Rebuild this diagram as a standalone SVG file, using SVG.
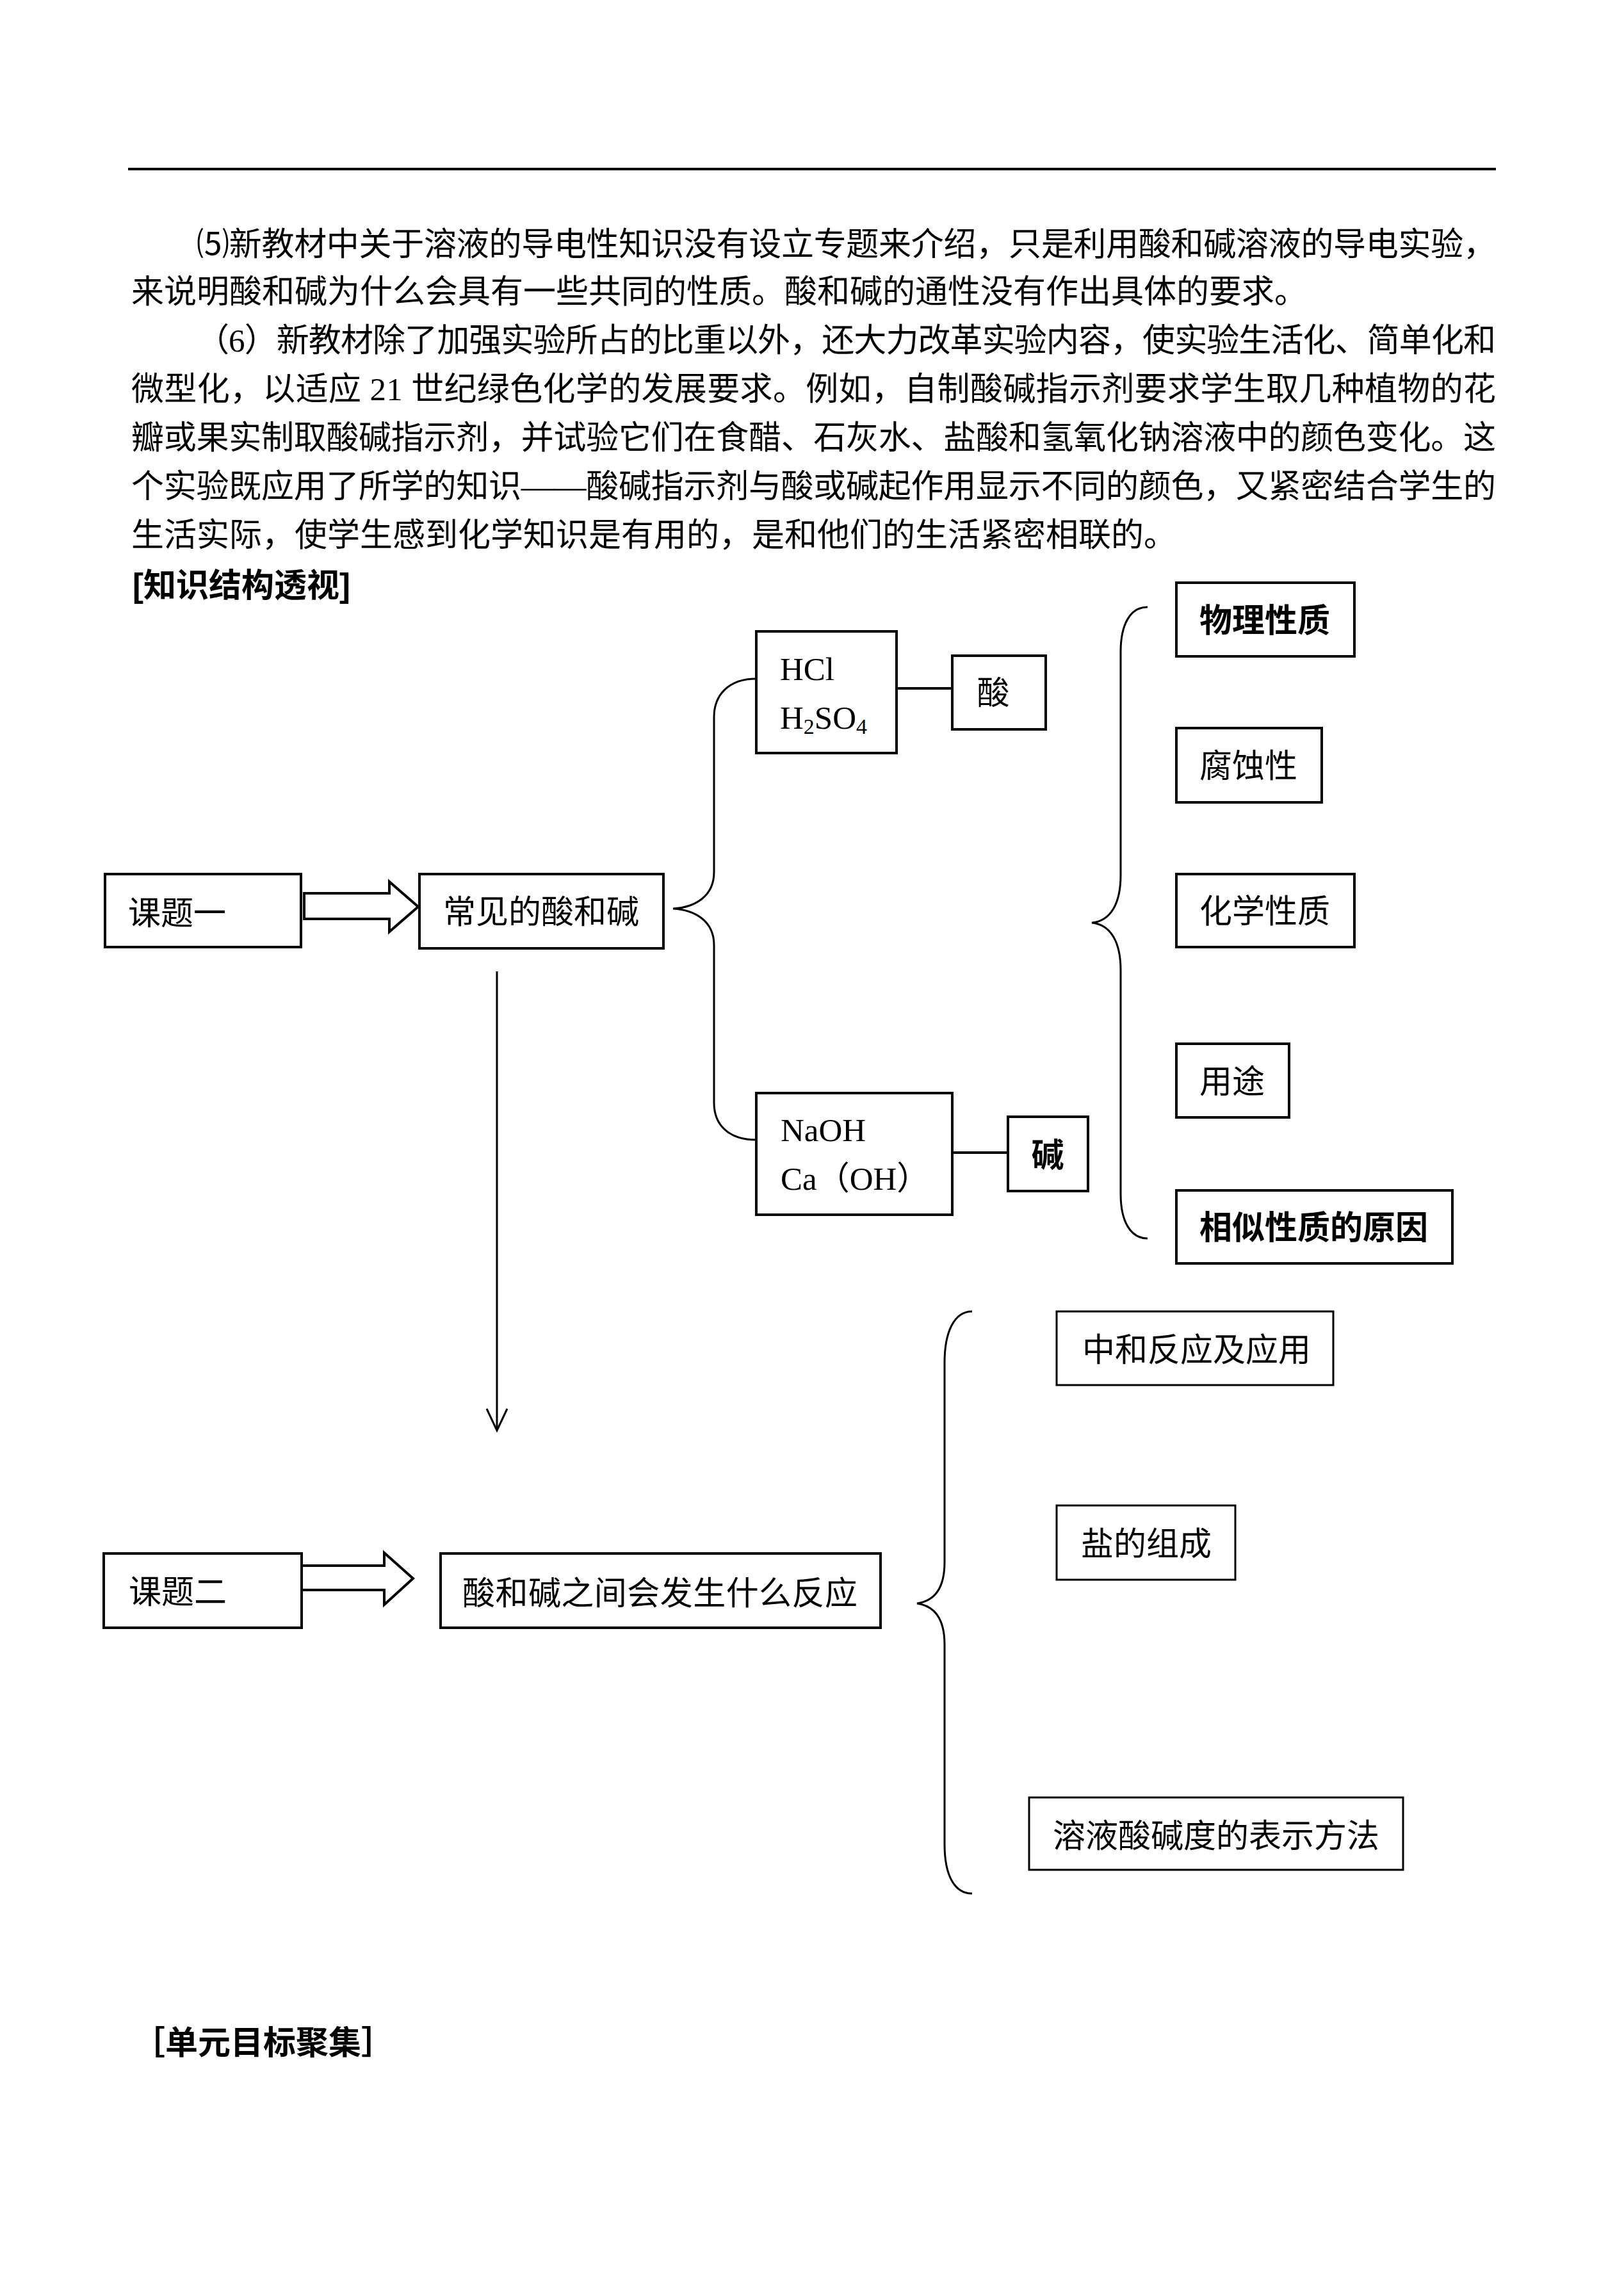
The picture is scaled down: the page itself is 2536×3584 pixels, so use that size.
<svg xmlns="http://www.w3.org/2000/svg" width="2536" height="3584" viewBox="0 0 2536 3584">
<style>
.para{font-family:"Liberation Serif","Noto Sans CJK SC",serif;font-size:51px;fill:#000}
.head{font-family:"Liberation Sans","Noto Sans CJK SC",sans-serif;font-size:51px;fill:#000}
.box{fill:none;stroke:#000;stroke-width:4}
.box2{fill:none;stroke:#000;stroke-width:3}
.lbl{font-family:"Liberation Serif","Noto Sans CJK SC",serif;font-size:51px;fill:#000}
.lbls{font-family:"Noto Sans CJK SC",sans-serif;font-size:51px;fill:#000}
.bold{font-family:"Noto Sans CJK SC",sans-serif;font-weight:bold;font-size:51px;fill:#000}
.chem{font-family:"Liberation Serif",serif;font-size:51px;fill:#000}
.con{fill:none;stroke:#000;stroke-width:3}
.conk{fill:none;stroke:#000;stroke-width:4}
.blk{fill:#fff;stroke:#000;stroke-width:4;stroke-linejoin:miter}
</style>
<rect width="2536" height="3584" fill="#fff"/>
<line x1="200" y1="264" x2="2336" y2="264" stroke="#000" stroke-width="4"/>
<g id="paragraph">
<text class="para" x="307" y="399" textLength="2029" lengthAdjust="spacing">⑸新教材中关于溶液的导电性知识没有设立专题来介绍，只是利用酸和碱溶液的导电实验，</text>
<text class="para" x="205" y="473">来说明酸和碱为什么会具有一些共同的性质。酸和碱的通性没有作出具体的要求。</text>
<text class="para" x="307" y="549" textLength="2029" lengthAdjust="spacing">（6）新教材除了加强实验所占的比重以外，还大力改革实验内容，使实验生活化、简单化和</text>
<text class="para" x="205" y="625" textLength="2131" lengthAdjust="spacing">微型化，以适应 21 世纪绿色化学的发展要求。例如，自制酸碱指示剂要求学生取几种植物的花</text>
<text class="para" x="205" y="701" textLength="2131" lengthAdjust="spacing">瓣或果实制取酸碱指示剂，并试验它们在食醋、石灰水、盐酸和氢氧化钠溶液中的颜色变化。这</text>
<text class="para" x="205" y="777" textLength="2131" lengthAdjust="spacing">个实验既应用了所学的知识——酸碱指示剂与酸或碱起作用显示不同的颜色，又紧密结合学生的</text>
<text class="para" x="205" y="853">生活实际，使学生感到化学知识是有用的，是和他们的生活紧密相联的。</text>
<text class="head" x="207" y="932" font-weight="bold">[知识结构透视]</text>
<text class="head" x="207" y="3208" font-weight="bold">［单元目标聚集］</text>
</g>
<g id="connectors">
<path class="con" d="M1181,1060 C1138,1060 1115,1085 1115,1120 L1115,1362 C1115,1400 1085,1417 1051,1419 C1085,1421 1115,1438 1115,1476 L1115,1722 C1115,1757 1138,1780 1181,1780"/>
<path class="con" d="M1792,948 C1765,948 1750,975 1750,1018 L1750,1367 C1750,1410 1735,1438 1705,1441 C1735,1444 1750,1472 1750,1515 L1750,1864 C1750,1907 1765,1934 1792,1934"/>
<path class="con" d="M1518,2048 C1490,2048 1475,2080 1475,2128 L1475,2440 C1475,2480 1460,2500 1432,2504 C1460,2508 1475,2528 1475,2568 L1475,2880 C1475,2928 1490,2957 1518,2957"/>
<line class="conk" x1="1400" y1="1075" x2="1487" y2="1075"/>
<line class="conk" x1="1487" y1="1800" x2="1574" y2="1800"/>
<line class="con" x1="776" y1="1517" x2="776" y2="2232"/>
<polyline class="con" points="760,2200 776,2234 792,2200"/>
<polygon class="blk" points="475,1395 608,1395 608,1377 653,1416 608,1455 608,1435 475,1435"/>
<polygon class="blk" points="471,2445 600,2445 600,2425 645,2465 600,2506 600,2483 471,2483"/>
</g>
<g id="n-keti1"><rect class="box" x="164" y="1365" width="306" height="114"/><text class="lbl" x="200" y="1444" font-size="56">课题一</text></g>
<g id="n-changjian"><rect class="box" x="655" y="1365" width="381" height="116"/><text class="lbl" x="692" y="1442">常见的酸和碱</text></g>
<g id="n-hcl"><rect class="box" x="1181" y="986" width="219" height="190"/><text class="chem" x="1218" y="1062">HCl</text><text class="chem" x="1218" y="1138">H<tspan font-size="34" dy="8">2</tspan><tspan dy="-8">SO</tspan><tspan font-size="34" dy="8">4</tspan></text></g>
<g id="n-suan"><rect class="box" x="1487" y="1024" width="146" height="115"/><text class="lbl" x="1551" y="1100" text-anchor="middle">酸</text></g>
<g id="n-naoh"><rect class="box" x="1181" y="1707" width="306" height="190"/><text class="chem" x="1219" y="1782">NaOH</text><text class="chem" x="1219" y="1858">Ca<tspan font-family="Noto Sans CJK SC">（</tspan>OH<tspan font-family="Noto Sans CJK SC">）</tspan></text></g>
<g id="n-jian"><rect class="box" x="1574" y="1744" width="125" height="116"/><text class="bold" x="1636" y="1822" text-anchor="middle">碱</text></g>
<g id="n-wuli"><rect class="box" x="1837" y="910" width="278" height="115"/><text class="bold" x="1873" y="987">物理性质</text></g>
<g id="n-fushi"><rect class="box" x="1837" y="1137" width="227" height="116"/><text class="lbl" x="1873" y="1214">腐蚀性</text></g>
<g id="n-huaxue"><rect class="box" x="1837" y="1365" width="278" height="114"/><text class="lbl" x="1873" y="1441">化学性质</text></g>
<g id="n-yongtu"><rect class="box" x="1837" y="1630" width="176" height="115"/><text class="lbl" x="1873" y="1707">用途</text></g>
<g id="n-xiangsi"><rect class="box" x="1837" y="1859" width="431" height="114"/><text class="bold" x="1873" y="1935">相似性质的原因</text></g>
<g id="n-keti2"><rect class="box" x="162" y="2426" width="309" height="116"/><text class="lbl" x="201" y="2504" font-size="56">课题二</text></g>
<g id="n-fanying"><rect class="box" x="688" y="2426" width="687" height="116"/><text class="lbl" x="722" y="2506" font-size="55" textLength="617" lengthAdjust="spacing">酸和碱之间会发生什么反应</text></g>
<g id="n-zhonghe"><rect class="box2" x="1650" y="2048" width="432" height="115"/><text class="lbls" x="1690" y="2126" font-size="50">中和反应及应用</text></g>
<g id="n-yan"><rect class="box2" x="1650" y="2351" width="279" height="116"/><text class="lbls" x="1688" y="2429" font-size="50">盐的组成</text></g>
<g id="n-ph"><rect class="box2" x="1607" y="2807" width="584" height="113"/><text class="lbls" x="1644" y="2885">溶液酸碱度的表示方法</text></g>
</svg>
